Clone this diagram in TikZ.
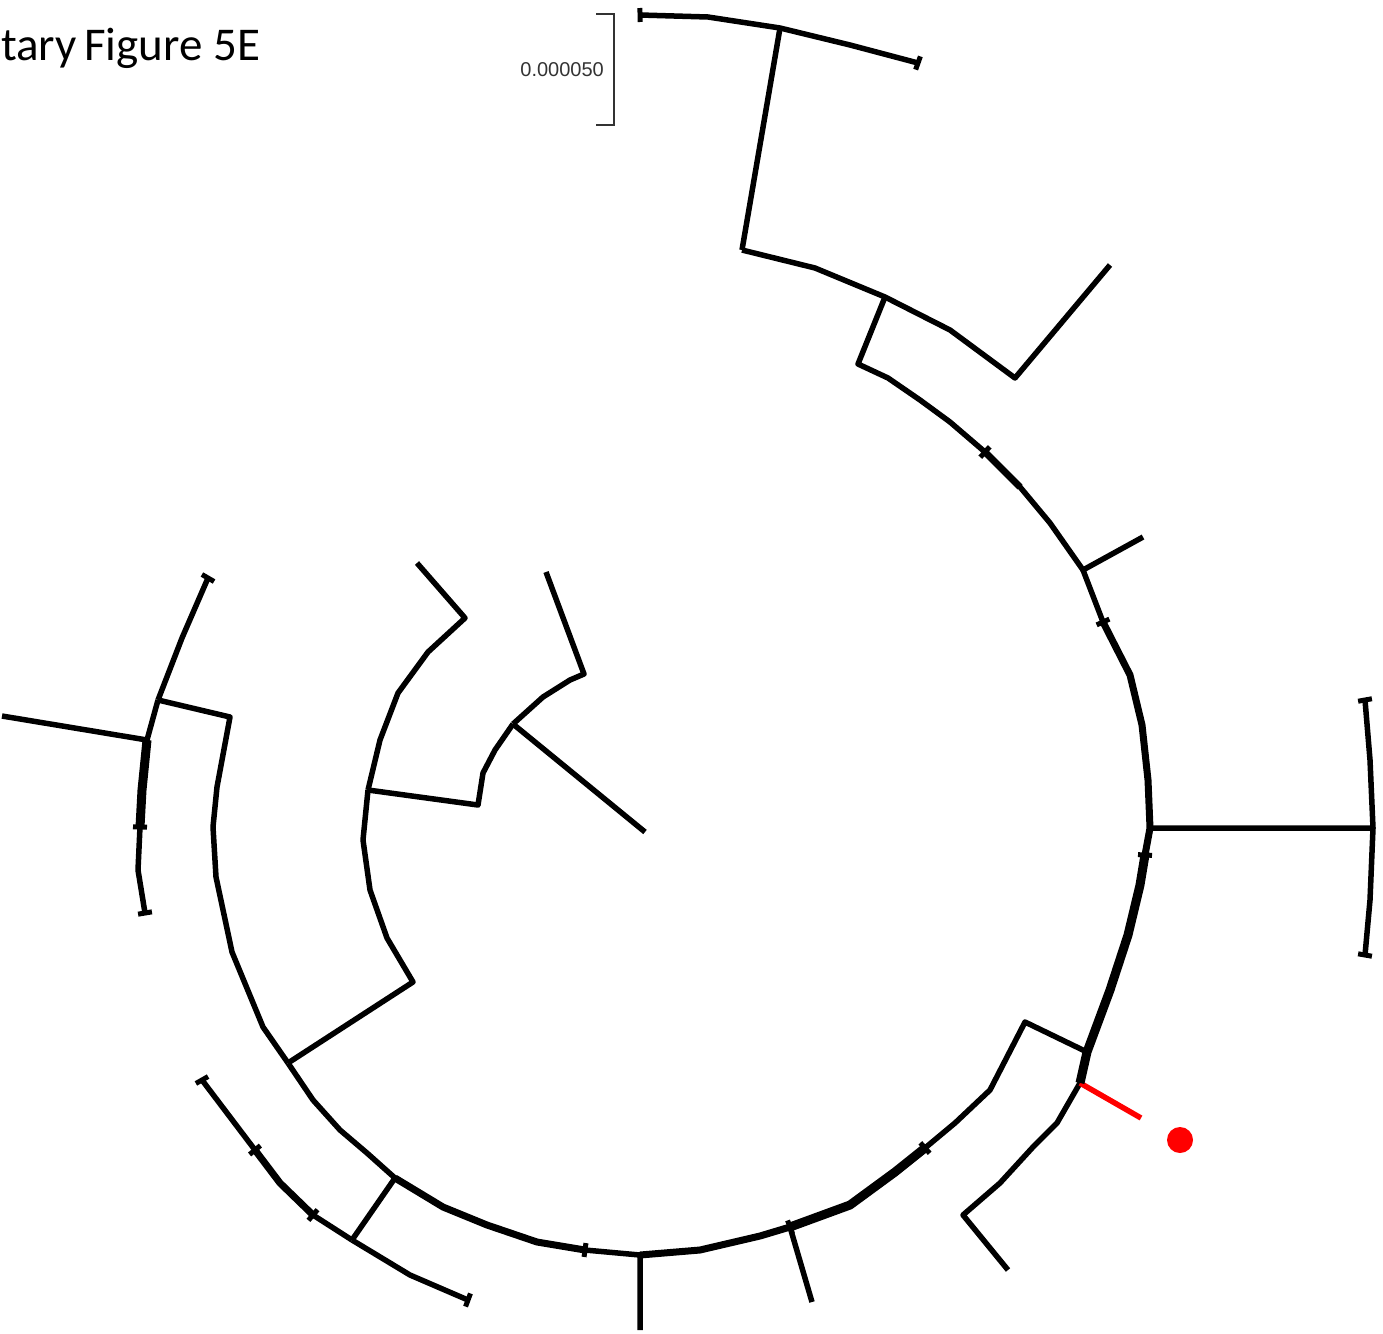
\documentclass[tikz,border=0pt]{standalone}
\usepackage{fontspec}
\newfontfamily\titlefont{Carlito}
\newfontfamily\labelfont{Liberation Sans}
\usetikzlibrary{calc}
\tikzset{
  branch/.style={draw=black, line width=5.5pt, line join=round},
  heavy/.style={draw=black, line width=9pt, line join=round},
  mid/.style={draw=black, line width=7pt, line join=round},
  tickbar/.style={draw=black, line width=5pt},
  hl/.style={draw=red, line width=5.5pt},
  scalebar/.style={draw=black!80, line width=1.5pt},
}
\newcommand\tipbar[1]{\draw[tickbar] ($(#1)!7pt!(C)$) -- ($(#1)!-7pt!(C)$);}
\begin{document}
\begin{tikzpicture}[x=1pt,y=-1pt]
\useasboundingbox (0,0) rectangle (1383,1333);
% title and scale
\node[anchor=base west, inner sep=0pt, font=\titlefont\fontsize{47}{56}\selectfont] (title) at (1,60) {tary\hspace{-3pt} Figure 5E};
\node[anchor=east, inner sep=0pt, text=black!80, font=\labelfont\fontsize{20}{24}\selectfont] (scalelabel) at (604,70) {0.000050};
\coordinate (s1) at (596,14); \coordinate (s2) at (614,14);
\coordinate (s3) at (614,125); \coordinate (s4) at (596,125);
\draw[scalebar] (s1) -- (s2) -- (s3) -- (s4);
% tree coordinates
\coordinate (C) at (643,830);
\coordinate (root) at (645,832);
\coordinate (n1) at (513,724);
\coordinate (n2) at (584,674);  \coordinate (l1) at (546,572);
\coordinate (n3) at (478,805);  \coordinate (n4) at (368,790);
\coordinate (n5) at (465,618);  \coordinate (l2) at (417,563);
\coordinate (n6) at (413,982);  \coordinate (n7) at (288,1063);
\coordinate (n8) at (230,717);  \coordinate (n9) at (158,700);
\coordinate (t1) at (208,578);
\coordinate (n10) at (147,740); \coordinate (l3) at (2,716);
\coordinate (t2) at (140,827);  \coordinate (t3) at (145,913);
\coordinate (n11) at (395,1178); \coordinate (n12) at (352,1240);
\coordinate (t4) at (313,1215); \coordinate (t5) at (255,1150); \coordinate (t6) at (202,1080);
\coordinate (t7) at (468,1300);
\coordinate (t8) at (585,1250); \coordinate (n13) at (640,1255); \coordinate (l4) at (640,1330);
\coordinate (n14) at (790,1227); \coordinate (l5) at (812,1302);
\coordinate (t9) at (925,1148); \coordinate (n15) at (1025,1022); \coordinate (n16) at (1087,1052);
\coordinate (n17) at (1080,1083); \coordinate (n18) at (963,1215); \coordinate (l6) at (1008,1270);
\coordinate (l7) at (1141,1118); \coordinate (dot) at (1180,1140);
\coordinate (t10) at (1145,855); \coordinate (n19) at (1150,828); \coordinate (n20) at (1373,828);
\coordinate (t11) at (1365,700); \coordinate (t12) at (1365,955);
\coordinate (t13) at (1103,622); \coordinate (n21) at (1083,570); \coordinate (l8) at (1143,537);
\coordinate (t14) at (985,452); \coordinate (n22) at (858,364); \coordinate (n23) at (885,297);
\coordinate (n24) at (742,250); \coordinate (n25) at (1015,378); \coordinate (l9) at (1110,265);
\coordinate (n26) at (780,28); \coordinate (t15) at (640,15); \coordinate (t16) at (918,63);
% inner part
\draw[branch] (root) -- (n1);
\draw[branch] (n1) -- (543,697) -- (570,680) -- (n2) -- (l1);
\draw[branch] (n1) -- (495,750) -- (483,773) -- (n3) -- (n4);
\draw[branch] (n4) -- (380,740) -- (398,693) -- (428,652) -- (n5) -- (l2);
\draw[branch] (n4) -- (363,840) -- (370,890) -- (387,938) -- (n6) -- (n7);
% left part
\draw[branch] (n7) -- (263,1027) -- (232,952) -- (216,877) -- (213,827) -- (217,787) -- (n8) -- (n9);
\draw[branch] (n9) -- (182,638) -- (t1);
\draw[branch] (n9) -- (n10) -- (l3);
\draw[branch] (n10) -- (142,790) -- (t2) -- (138,870) -- (t3);
\draw[heavy] (n10) -- (142,790) -- (t2);
% bottom left
\draw[branch] (n7) -- (313,1100) -- (340,1130) -- (367,1153) -- (n11) -- (n12);
\draw[branch] (n12) -- (t4) -- (280,1183) -- (t5) -- (t6);
\draw[mid] (t4) -- (280,1183) -- (t5);
\draw[branch] (n12) -- (410,1275) -- (t7);
\draw[branch] (n11) -- (443,1207) -- (487,1225) -- (537,1242) -- (t8) -- (n13) -- (l4);
\draw[mid] (n11) -- (443,1207) -- (487,1225) -- (537,1242) -- (t8);
% bottom right
\draw[branch] (n13) -- (700,1250) -- (760,1236) -- (n14) -- (l5);
\draw[mid] (n13) -- (700,1250) -- (760,1236) -- (n14);
\draw[branch] (n14) -- (850,1205) -- (895,1172) -- (t9) -- (955,1123) -- (990,1090) -- (n15) -- (n16);
\draw[heavy] (n14) -- (850,1205) -- (895,1172) -- (t9);
\draw[branch] (n16) -- (n17) -- (1057,1123) -- (1033,1147) -- (1000,1183) -- (n18) -- (l6);
\draw[hl] (n17) -- (l7);
\fill[red] (dot) circle (13);
% right part
\draw[branch] (n16) -- (1110,990) -- (1128,935) -- (1140,885) -- (t10) -- (n19) -- (n20);
\draw[heavy] (n17) -- (n16) -- (1110,990) -- (1128,935) -- (1140,885) -- (t10);
\draw[branch] (t11) -- (1370,760) -- (n20) -- (1370,900) -- (t12);
\draw[branch] (n19) -- (1148,780) -- (1142,725) -- (1130,675) -- (t13) -- (n21) -- (l8);
\draw[mid] (t10) -- (n19) -- (1148,780) -- (1142,725) -- (1130,675) -- (t13);
\draw[branch] (n21) -- (1050,523) -- (1020,487) -- (t14) -- (950,422) -- (920,400) -- (888,378) -- (n22) -- (n23);
\draw[mid] (1020,487) -- (t14);
% top part
\draw[branch] (n24) -- (815,268) -- (n23) -- (950,330) -- (n25) -- (l9);
\draw[branch] (n24) -- (n26);
\draw[branch] (t15) -- (708,17) -- (n26) -- (850,45) -- (t16);
% tip bars
\foreach \p in {t1,t2,t3,t4,t5,t6,t7,t8,t9,t10,t11,t12,t13,t14,t15,t16,n14}{\tipbar{\p}}
\end{tikzpicture}
\end{document}
